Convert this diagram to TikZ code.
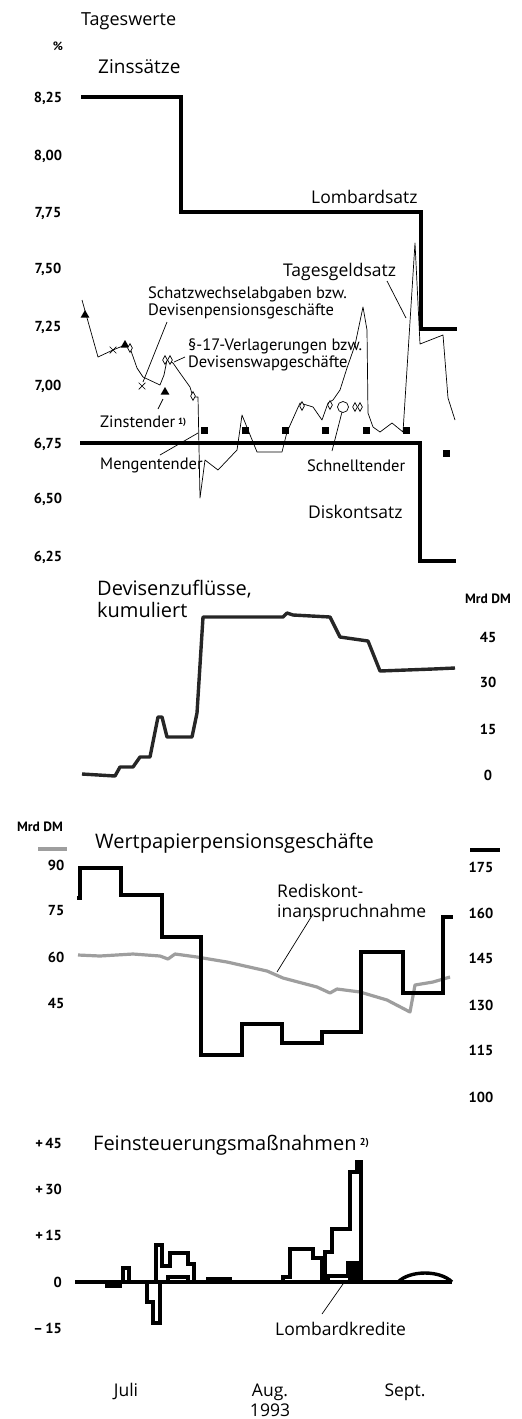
\documentclass[tikz,border=0pt]{standalone}
\usepackage{fontspec}
\setmainfont{Open Sans}
\newfontfamily\ptsans{PT Sans}
\usetikzlibrary{shapes.geometric,shapes.misc}
\begin{document}
\begin{tikzpicture}[x=1pt,y=-1pt,
  ttl/.style={font=\fontsize{20}{22}\selectfont, inner sep=0pt, anchor=base west},
  lbl/.style={font=\fontsize{17.5}{19}\selectfont, inner sep=0pt},
  ann/.style={font=\ptsans\fontsize{16.5}{18}\selectfont, inner sep=0pt, anchor=base west},
  tck/.style={font=\ptsans\bfseries\fontsize{14.5}{16}\selectfont, inner sep=0pt, anchor=base},
  rate/.style={line width=4.5pt, line join=miter, line cap=rect},
  tgl/.style={line width=0.7pt, line join=round},
  ptr/.style={line width=0.7pt},
  dev/.style={line width=3.4pt, draw=black!85, line join=round},
  red/.style={line width=3.2pt, draw=black!38, line join=round},
  bar/.style={line width=3.4pt, line join=miter},
  tri/.style={regular polygon, regular polygon sides=3, fill=black, inner sep=0pt, minimum size=10pt},
  dia/.style={diamond, draw, line width=0.7pt, fill=white, inner sep=0pt, aspect=0.55, minimum height=9pt, minimum width=5pt},
  crs/.style={cross out, draw, line width=0.7pt, inner sep=0pt, minimum size=6pt},
  sqr/.style={fill=black, inner sep=0pt, minimum size=7pt},
  cir/.style={circle, draw, line width=0.7pt, fill=white, inner sep=0pt, minimum size=11pt}
]
\useasboundingbox (0,0) rectangle (522,1419);

% ---------- Panel 1: Zinssaetze ----------
\node[lbl, anchor=base west, font=\fontsize{18}{20}\selectfont] (tw) at (81,25) {Tageswerte};
\node[tck, font=\ptsans\bfseries\fontsize{12}{14}\selectfont] (pct) at (58,50) {\%};
\node[ttl, font=\fontsize{19}{21}\selectfont] (zins) at (98,73) {Zinssätze};
\foreach \v/\y [count=\i] in {{8,25}/97, {8,00}/155, {7,75}/212, {7,50}/268, {7,25}/326, {7,00}/385, {6,75}/443, {6,50}/498, {6,25}/556}
  \node[tck] (zt\i) at (48,\y+5) {\v};

% Lombardsatz
\draw[rate] (83,97) -- (181,97) -- (181,212) -- (421,212) -- (421,329) -- (455,329);
\node[lbl, anchor=base west] (lomb) at (311,203) {Lombardsatz};
% Diskontsatz
\draw[rate] (82,443) -- (420,443) -- (420,561) -- (454,561);
\node[lbl, anchor=base west] (disk) at (308,518) {Diskontsatz};

% Tagesgeldsatz
\draw[tgl] (82,300) -- (98,357) -- (113,350) -- (125,345) -- (130,348) -- (137,368) -- (143,377)
  -- (160,385) -- (164,375) -- (167,360) -- (173,363) -- (180,373) -- (190,387) -- (193,397)
  -- (198,397) -- (200,498) -- (205,460) -- (218,470) -- (237,450) -- (242,415) -- (257,452)
  -- (282,452) -- (287,432) -- (300,403) -- (313,407) -- (322,420) -- (328,403) -- (333,400)
  -- (340,390) -- (347,368) -- (355,345) -- (363,307) -- (367,330) -- (368,413) -- (373,427)
  -- (380,432) -- (392,423) -- (403,432) -- (415,243) -- (420,344) -- (443,335) -- (448,398) -- (455,420);
\node[lbl, anchor=base west] (tg) at (283,276) {Tagesgeldsatz};
\coordinate (tgp1) at (387,281);
\coordinate (tgp2) at (406,318);
\draw[ptr] (tgp1) -- (tgp2);

% markers
\foreach \p [count=\i] in {(85,315),(125,345),(165,392)} \node[tri] (tr\i) at \p {};
\foreach \p [count=\i] in {(113,350),(142,386)} \node[crs] (cx\i) at \p {};
\foreach \p [count=\i] in {(130,348),(165,360),(170,360),(193,396),(302,406),(330,405),(355,407),(360,407)} \node[dia] (dm\i) at \p {};
\node[cir] (ci1) at (343,407) {};
\foreach \p [count=\i] in {(204,430),(245,430),(285,430),(325,430),(366,430),(406,430),(446,453)} \node[sqr] (sq\i) at \p {};

% annotations
\node[ann] (schatz) at (148,298) {Schatzwechselabgaben bzw.};
\node[ann] (devpen) at (148,315) {Devisenpensionsgeschäfte};
\node[ann] (par17) at (188,350) {§-17-Verlagerungen bzw.};
\node[ann] (devswp) at (188,367) {Devisenswapgeschäfte};
\node[ann] (zinst) at (100,427) {Zinstender\,\raisebox{3pt}{\fontsize{9}{10}\selectfont\bfseries 1)}};
\node[ann] (meng) at (100,469) {Mengentender};
\node[ann] (schn) at (307,471) {Schnelltender};
\coordinate (a1) at (167,322); \coordinate (a2) at (143,382);
\coordinate (b1) at (185,357); \coordinate (b2) at (174,362);
\coordinate (c1) at (163,399); \coordinate (c2) at (158,409);
\coordinate (d1) at (160,455); \coordinate (d2) at (198,433);
\coordinate (e1) at (332,451); \coordinate (e2) at (342,412);
\draw[ptr] (a1) -- (a2);
\draw[ptr] (b1) -- (b2);
\draw[ptr] (c1) -- (c2);
\draw[ptr] (d1) -- (d2);
\draw[ptr] (e1) -- (e2);

% ---------- Panel 2: Devisenzufluesse ----------
\node[ttl] (dz1) at (97,595) {Devisenzuflüsse,};
\node[ttl] (dz2) at (97,617) {kumuliert};
\node[tck, font=\ptsans\bfseries\fontsize{13.5}{15}\selectfont] (mrd1) at (488,603) {Mrd DM};
\foreach \v/\y [count=\i] in {45/637, 30/682, 15/729, 0/775}
  \node[tck] (dt\i) at (488,\y+5) {\v};
\draw[dev] (82,774) -- (115,776) -- (120,767) -- (133,767) -- (140,757) -- (150,757) -- (158,717)
  -- (162,717) -- (167,737) -- (192,737) -- (197,713) -- (203,617) -- (283,617) -- (287,613)
  -- (293,615) -- (330,617) -- (340,637) -- (368,641) -- (380,671) -- (433,669) -- (455,668);

% ---------- Panel 3: Wertpapierpensionsgeschaefte ----------
\node[tck, font=\ptsans\bfseries\fontsize{13.5}{15}\selectfont] (mrd2) at (40,831) {Mrd DM};
\draw[red] (38,849) -- (67,849);
\draw[line width=3.5pt] (470,850) -- (500,850);
\node[ttl] (wp) at (95,848) {Wertpapierpensionsgeschäfte};
\foreach \v/\y [count=\i] in {90/865, 75/910, 60/957, 45/1003}
  \node[tck] (wl\i) at (56,\y+5) {\v};
\foreach \v/\y [count=\i] in {175/867, 160/913, 145/958, 130/1005, 115/1050, 100/1097}
  \node[tck] (wr\i) at (481,\y+5) {\v};
\draw[red] (78,955) -- (100,956) -- (133,954) -- (160,956) -- (168,959) -- (175,954) -- (197,957)
  -- (227,962) -- (267,971) -- (283,978) -- (317,987) -- (330,993) -- (337,989) -- (360,992)
  -- (387,1000) -- (410,1012) -- (415,985) -- (433,982) -- (450,977);
\draw[rate, line cap=butt] (77,898) -- (80,898) -- (80,868) -- (121,868) -- (121,895) -- (162,895)
  -- (162,937) -- (201,937) -- (201,1055) -- (242,1055) -- (242,1024) -- (282,1024) -- (282,1043)
  -- (322,1043) -- (322,1032) -- (361,1032) -- (361,952) -- (403,952) -- (403,993) -- (443,993)
  -- (443,917) -- (453,917);
\node[lbl, anchor=base west] (rd1) at (277,897) {Rediskont-};
\node[lbl, anchor=base west] (rd2) at (277,917) {inanspruchnahme};
\coordinate (f1) at (313,914); \coordinate (f2) at (277,972);
\draw[ptr] (f1) -- (f2);

% ---------- Panel 4: Feinsteuerungsmassnahmen ----------
\node[ttl] (fs) at (93,1150) {Feinsteuerungsmaßnahmen\,\raisebox{5pt}{\ptsans\fontsize{10}{11}\selectfont\bfseries 2)}};
\foreach \v/\y [count=\i] in {{+\,45}/1143, {+\,30}/1189, {+\,15}/1235, {0}/1282, {–\,15}/1328}
  \node[tck, anchor=base east] (ft\i) at (62,\y+5) {\v};
\draw[bar] (75,1282) -- (452,1282);
\draw[bar] (107,1282) -- (107,1286) -- (120,1286) -- (120,1282);
\draw[bar] (123,1282) -- (123,1268) -- (129,1268) -- (129,1282);
\draw[bar] (147,1282) -- (147,1302) -- (153,1302) -- (153,1323) -- (160,1323) -- (160,1282);
\draw[bar] (156,1282) -- (156,1245) -- (162,1245) -- (162,1266) -- (170,1266) -- (170,1253)
  -- (188,1253) -- (188,1264) -- (194,1264) -- (194,1282);
\draw[bar] (168,1282) -- (168,1277) -- (188,1277) -- (188,1282);
\draw[bar] (208,1282) -- (208,1279) -- (230,1279) -- (230,1282);
\draw[bar] (283,1282) -- (283,1277) -- (290,1277) -- (290,1249) -- (313,1249) -- (313,1258)
  -- (322,1258) -- (322,1282);
\draw[bar] (325,1282) -- (325,1252) -- (332,1252) -- (332,1229) -- (350,1229) -- (350,1172)
  -- (357,1172) -- (357,1162) -- (361,1162) -- (361,1282);
\draw[bar] (328,1282) -- (328,1276) -- (348,1276) -- (348,1263) -- (357,1263) -- (357,1282);
\fill (348,1263) rectangle (357,1282);
\draw[bar] (398,1282) .. controls (410,1270) and (440,1270) .. (452,1282);
\node[lbl, anchor=base west] (lk) at (275,1335) {Lombardkredite};
\coordinate (g1) at (322,1314); \coordinate (g2) at (343,1284);
\draw[ptr] (g1) -- (g2);

% x-axis labels
\node[lbl, anchor=base] (jul) at (126,1396) {Juli};
\node[lbl, anchor=base] (aug) at (270,1396) {Aug.};
\node[lbl, anchor=base] (yr) at (270,1416) {1993};
\node[lbl, anchor=base] (sep) at (405,1396) {Sept.};
\end{tikzpicture}
\end{document}
